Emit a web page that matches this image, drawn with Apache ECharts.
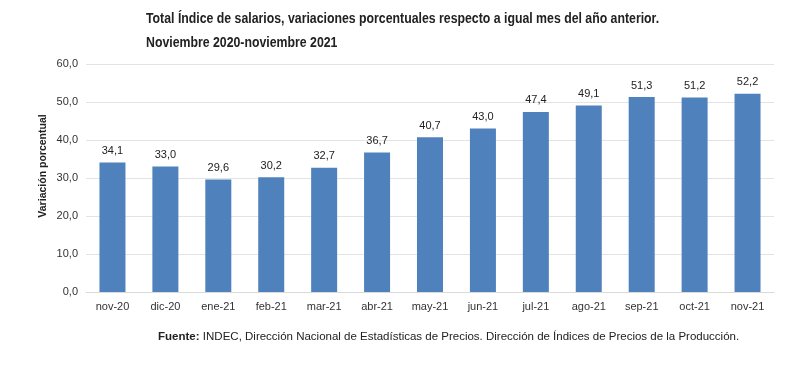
<!DOCTYPE html>
<html><head><meta charset="utf-8">
<script src="https://cdn.jsdelivr.net/npm/echarts@6/dist/echarts.min.js"></script>
<style>html,body{margin:0;padding:0;background:#fff}#c{width:800px;height:365px}</style>
</head><body><div id="c"></div>
<script>
const categories = ['nov-20','dic-20','ene-21','feb-21','mar-21','abr-21','may-21','jun-21','jul-21','ago-21','sep-21','oct-21','nov-21'];
const values = [34.1,33.0,29.6,30.2,32.7,36.7,40.7,43.0,47.4,49.1,51.3,51.2,52.2];
const titleLines = ['Total Índice de salarios, variaciones porcentuales respecto a igual mes del año anterior.','Noviembre 2020-noviembre 2021'];
const yName = 'Variación porcentual';
const fmt = v => v.toFixed(1).replace('.', ',');
const chart = echarts.init(document.getElementById('c'), null, {renderer:'canvas'});
chart.setOption({
  animation:false,
  graphic:[
    {type:'text', x:146, y:7, scaleX:0.82, scaleY:1,
      style:{text:titleLines.join('\n'), font:'bold 15px "Liberation Sans", Arial', lineHeight:24, fill:'#222'}},
    {type:'text', x:43, y:166, rotation:Math.PI/2,
      style:{text:yName, font:'bold 10.5px "Liberation Sans", Arial', fill:'#222', textAlign:'center', textVerticalAlign:'middle'}},
    {type:'text', left:158, top:331,
    style:{rich:{b:{fontWeight:'bold',fontSize:11.5,fontFamily:'Liberation Sans, Arial',fill:'#222'},n:{fontSize:11.5,fontFamily:'Liberation Sans, Arial',fill:'#222'}},
      text:'{b|Fuente:} {n|INDEC, Dirección Nacional de Estadísticas de Precios. Dirección de Índices de Precios de la Producción.}'}}],
  grid:{left:86, right:26, top:64, bottom:73},
  xAxis:{type:'category', data:categories,
    axisLine:{lineStyle:{color:'#d9d9d9'}}, axisTick:{show:false},
    axisLabel:{color:'#333', fontSize:11, fontFamily:'Liberation Sans, Arial', margin:9}},
  yAxis:{type:'value', min:0, max:60, interval:10,
    axisLabel:{formatter:fmt, color:'#333', fontSize:11, fontFamily:'Liberation Sans, Arial', margin:8},
    splitLine:{lineStyle:{color:'#e3e3e3'}}, axisLine:{show:false}, axisTick:{show:false}},
  series:[{type:'bar', data:values, barWidth:26, itemStyle:{color:'#4f81bd'},
    label:{show:true, position:'top', distance:6, formatter:p=>fmt(p.value), color:'#222', fontSize:11, fontFamily:'Liberation Sans, Arial'}}]
});
</script></body></html>
